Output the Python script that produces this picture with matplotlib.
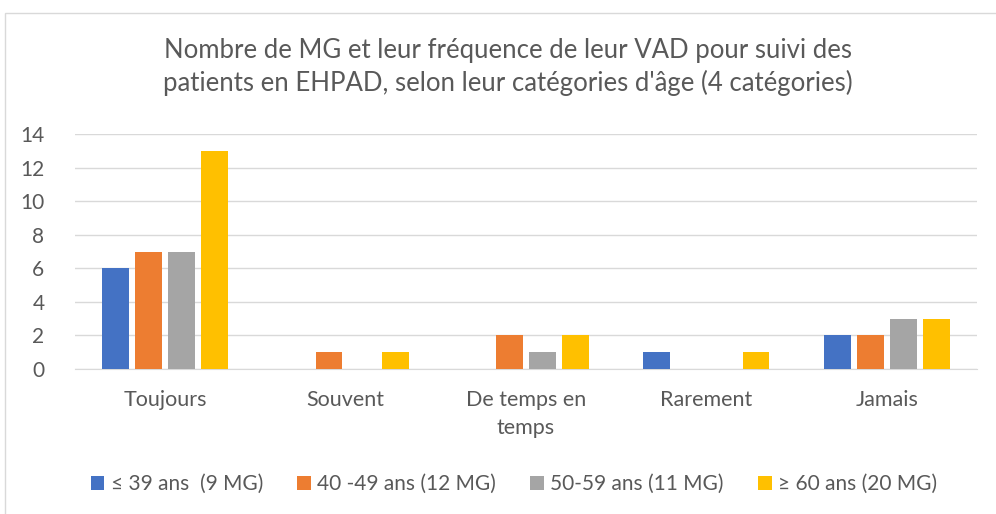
import numpy as np
import matplotlib.pyplot as plt
from matplotlib.patches import Rectangle

plt.rcParams['font.family'] = ['Lato', 'DejaVu Sans']

categories = ["Toujours", "Souvent", "De temps en\ntemps", "Rarement", "Jamais"]
series_names = ["≤ 39 ans  (9 MG)", "40 -49 ans (12 MG)", "50-59 ans (11 MG)", "≥ 60 ans (20 MG)"]
v_39 = [6, 0, 0, 1, 2]
v_40_49 = [7, 1, 2, 0, 2]
v_50_59 = [7, 0, 1, 0, 3]
v_60 = [13, 1, 2, 1, 3]
values = [v_39, v_40_49, v_50_59, v_60]
colors = ["#4472C4", "#ED7D31", "#A5A5A5", "#FFC000"]

txt = "#595959"
fig = plt.figure(figsize=(9.96, 5.14), dpi=100)
ax = fig.add_axes([75 / 996, 1 - 369 / 514, 902 / 996, 235 / 514])

x = np.arange(len(categories))
width = 0.148
offsets = [-0.275, -0.0917, 0.0917, 0.275]
for vals, off, c, name in zip(values, offsets, colors, series_names):
    ax.bar(x + off, vals, width, color=c, label=name, zorder=3)

ax.set_xlim(-0.5, 4.5)
ax.set_ylim(0, 14)
ax.set_yticks(range(0, 15, 2))
ax.set_xticks(x)
ax.set_xticklabels(categories, fontsize=15.5, color=txt, linespacing=1.5)
ax.tick_params(axis='both', length=0, colors=txt)
ax.tick_params(axis='y', labelsize=15, pad=22)
ax.tick_params(axis='x', pad=15)
ax.grid(axis='y', color="#D9D9D9", linewidth=1, zorder=0)
for s in ['top', 'right', 'left']:
    ax.spines[s].set_visible(False)
ax.spines['bottom'].set_color("#D9D9D9")

fig.text(0.51, 1 - 67 / 514, "Nombre de MG et leur fréquence de leur VAD pour suivi des\npatients en EHPAD, selon leur catégories d'âge (4 catégories)",
         ha='center', va='center', fontsize=18.5, color=txt, linespacing=1.36)

leg = fig.legend(loc='center', bbox_to_anchor=(0.516, 1 - 484 / 514), ncol=4, frameon=False,
                 fontsize=15, labelcolor=txt, handlelength=0.65, handleheight=0.65,
                 handletextpad=0.3, columnspacing=1.65)

fig.patches.append(Rectangle((5 / 996, -0.1), 1.1, 1 - 13 / 514 + 0.1, transform=fig.transFigure,
                             fill=False, edgecolor="#D9D9D9", linewidth=1))

fig.savefig("out.png", dpi=100)
